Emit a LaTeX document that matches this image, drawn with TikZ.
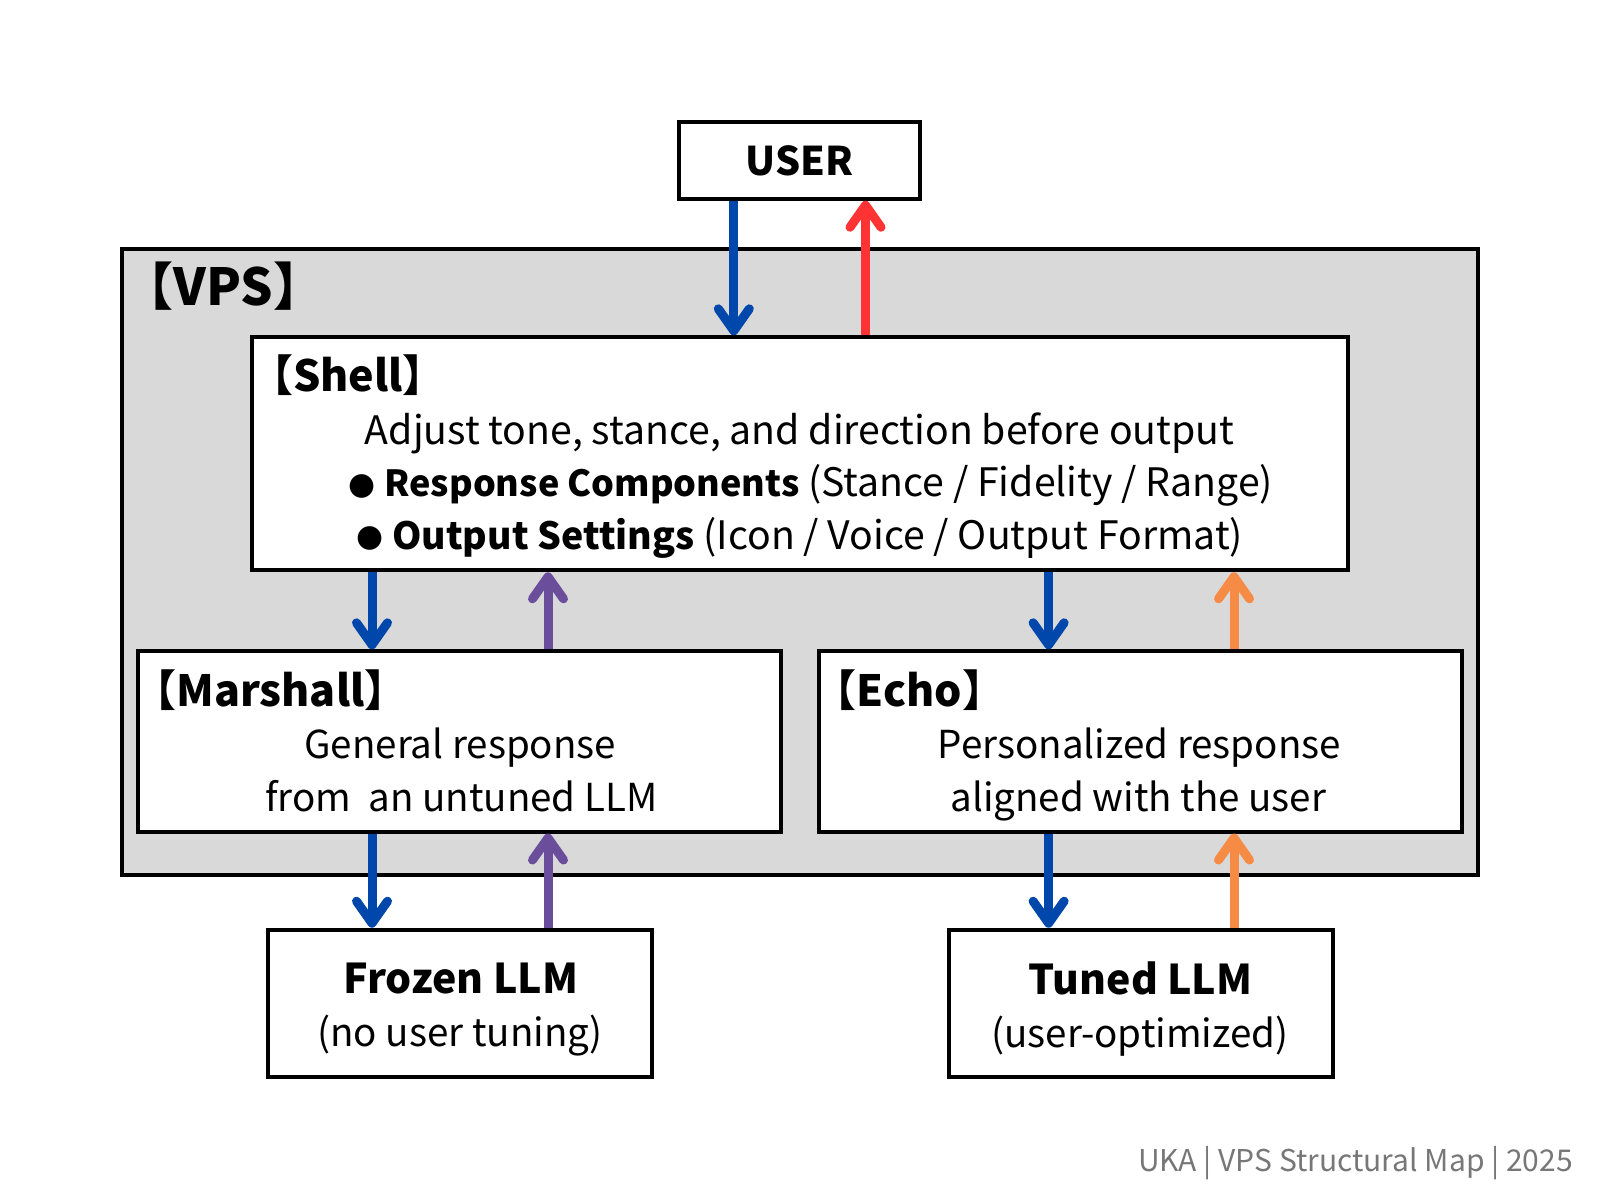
\documentclass[tikz,border=0pt]{standalone}
\usepackage{fontspec}
\setmainfont{Noto Sans CJK JP}
\newfontfamily\bulletfont{DejaVu Sans}
\usetikzlibrary{arrows.meta}
\definecolor{flowblue}{HTML}{0047AB}
\definecolor{flowred}{HTML}{FF3333}
\definecolor{flowpurple}{HTML}{6B4E9B}
\definecolor{floworange}{HTML}{F68B45}
\definecolor{vpsgray}{HTML}{D9D9D9}
\definecolor{footgray}{HTML}{777777}
\newcommand{\blt}{\raisebox{2.5pt}{\bulletfont\fontsize{31}{36}\selectfont ●}}
\tikzset{
  box/.style={draw=black, line width=4pt, fill=white, rectangle, inner sep=0pt},
  flow/.style={line width=9pt, -{Straight Barb[length=22pt,width=31pt,round]}},
  hdr/.style={font=\fontsize{43}{48}\selectfont\bfseries, inner sep=0pt},
  body/.style={font=\fontsize{38.5}{44}\selectfont, inner sep=0pt},
  shellbody/.style={font=\fontsize{39.2}{44}\selectfont, inner sep=0pt},
  big/.style={font=\fontsize{41}{46}\selectfont\bfseries, inner sep=0pt},
}
\begin{document}
\begin{tikzpicture}[x=1pt,y=-1pt]
\useasboundingbox (0,0) rectangle (1600,1200);
% boxes
\node[box, fill=vpsgray, minimum width=1356pt, minimum height=626pt] (vps) at (800,562.3) {};
\node[font=\fontsize{51}{56}\selectfont\bfseries, inner sep=0pt] (vpslabel) at (223.5,285.8) {【VPS】};
\node[box, minimum width=241pt, minimum height=76.7pt, font=\fontsize{39.5}{46}\selectfont\bfseries] (user) at (799.8,160.4) {USER};
\node[box, minimum width=1096pt, minimum height=233pt] (shell) at (800,453.8) {};
\node[box, minimum width=643pt, minimum height=180.2pt] (marshall) at (459.75,741.4) {};
\node[box, minimum width=643pt, minimum height=180.2pt] (echo) at (1140.4,741.4) {};
\node[box, minimum width=384.3pt, minimum height=147.3pt] (frozen) at (460.15,1003.35) {};
\node[box, minimum width=384.3pt, minimum height=147.3pt] (tuned) at (1140.8,1003.35) {};
% texts
\node[hdr] (shellh) at (348,375.6) {【Shell】};
\node[shellbody] (shell1) at (799.7,433.7) {Adjust tone, stance, and direction before output};
\node[shellbody] (shell2) at (810.8,485.6) {\blt\ {\fontsize{36}{42}\selectfont\bfseries Response Components} (Stance / Fidelity / Range)};
\node[shellbody] (shell3) at (799.7,537.8) {\blt\ {\fontsize{37.5}{42}\selectfont\bfseries Output Settings} (Icon / Voice / Output Format)};
\node[hdr] (marshallh) at (270.5,689.9) {【Marshall】};
\node[body] (marshall1) at (460.2,748) {General response};
\node[body] (marshall2) at (461.3,796) {from\ \ an untuned LLM};
\node[hdr] (echoh) at (909.3,689.9) {【Echo】};
\node[body] (echo1) at (1139.4,748) {Personalized response};
\node[body] (echo2) at (1138.4,801) {aligned with the user};
\node[big] (frozen1) at (460.7,978.7) {Frozen LLM};
\node[body] (frozen2) at (460.2,1036) {(no user tuning)};
\node[big] (tuned1) at (1140.4,978.7) {Tuned LLM};
\node[body] (tuned2) at (1140,1036) {(user-optimized)};
\node[font=\fontsize{30}{34}\selectfont, text=footgray, anchor=east, inner sep=0pt] (foot) at (1573,1163.3) {UKA | VPS Structural Map | 2025};
% arrow x positions
\coordinate (xa) at (733.8,0);
\coordinate (xb) at (865.5,0);
\coordinate (xc) at (372,0);
\coordinate (xd) at (548,0);
\coordinate (xe) at (1048.6,0);
\coordinate (xf) at (1234,0);
% arrows
\draw[flow, flowblue] (user.south -| xa) -- (shell.north -| xa);
\draw[flow, flowred] (shell.north -| xb) -- (user.south -| xb);
\draw[flow, flowblue] (shell.south -| xc) -- (marshall.north -| xc);
\draw[flow, flowpurple] (marshall.north -| xd) -- (shell.south -| xd);
\draw[flow, flowblue] (shell.south -| xe) -- (echo.north -| xe);
\draw[flow, floworange] (echo.north -| xf) -- (shell.south -| xf);
\draw[flow, flowblue] (marshall.south -| xc) -- (frozen.north -| xc);
\draw[flow, flowpurple] (frozen.north -| xd) -- (marshall.south -| xd);
\draw[flow, flowblue] (echo.south -| xe) -- (tuned.north -| xe);
\draw[flow, floworange] (tuned.north -| xf) -- (echo.south -| xf);
\end{tikzpicture}
\end{document}
